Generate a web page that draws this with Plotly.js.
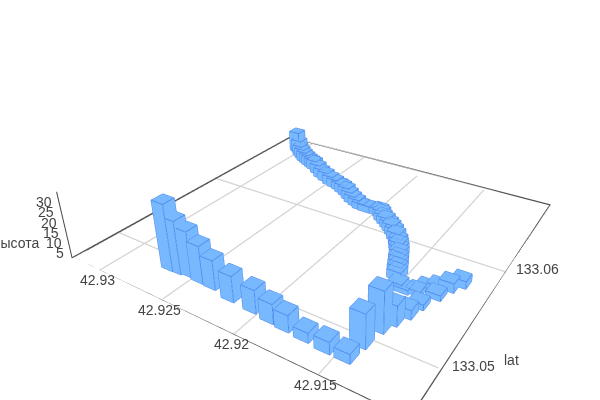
<!DOCTYPE html>
<html><head><meta charset="utf-8"><script src="https://cdn.plot.ly/plotly-3.0.1.min.js"></script>
<style>html,body{margin:0;padding:0;background:#fff;overflow:hidden}#w{position:relative;width:600px;height:400px;overflow:hidden}#c{position:absolute;left:0;top:-97px;width:710px;height:504px}</style></head><body><div id="w"><div id="c"></div></div>
<script>
const lat=[133.04916,133.04919,133.04933,133.04923,133.04917,133.04886,133.04876,133.04858,133.04849,133.04839,133.04828,133.04827,133.04961,133.05118,133.0521,133.05307,133.05418,133.05549,133.05521,133.055,133.05516,133.05634,133.05664,133.05741,133.05586,
133.06842,133.06815,133.06767,133.06733,133.06699,133.06678,133.06655,133.06633,133.06612,133.06565,133.06516,133.06482,133.06449,133.0643,133.06413,133.06385,133.06356,133.0632,133.06284,133.0626,133.06235,133.06228,133.06231,133.06245,133.06208,133.06167,133.06136,133.06104,133.06071,133.06038,133.0599,133.05939,133.05897,133.05854,133.05801,133.05748,133.05696,133.05646,133.05596];
const lon=[42.92681,42.9262,42.92546,42.92453,42.92358,42.92204,42.92045,42.91921,42.9182,42.91697,42.91568,42.91455,42.91443,42.91422,42.91392,42.91356,42.91335,42.91291,42.91398,42.91461,42.91504,42.91319,42.9126,42.91218,42.91371,
42.93035,42.92998,42.92957,42.92916,42.92875,42.92838,42.928,42.92762,42.92726,42.92665,42.92604,42.92545,42.92485,42.92436,42.92387,42.92342,42.92297,42.92252,42.92208,42.92163,42.92118,42.92072,42.92023,42.91976,42.91945,42.91915,42.91878,42.91841,42.91808,42.91774,42.91737,42.917,42.91677,42.91654,42.9163,42.91609,42.91588,42.91568,42.91548];
const alt=[32,25.5,22,18,14,12.3,11,9.2,7.8,4.5,5.5,4.3,15.5,19,9.5,4.3,2.6,2.6,2.2,2.2,2.8,2.2,4.4,3.6,2,
12,8,6.4,6,5.8,5.4,5.2,5.2,5.4,5.2,5,5.1,5,4.6,4.3,4.7,4.8,4.4,4.1,3.8,3.4,3.4,3.4,3.4,3.8,3.8,4,3.8,4,3.8,4,3.7,3.8,3.6,4,4,4,4,4];
const hx=0.00048,hy=0.00044;
const xR=[133.0463,133.0703],yR=[42.9104,42.9324],zR=[-0.3,32];
const xT=[133.05,133.06],yT=[42.915,42.92,42.925,42.93],zT=[5,10,15,20,25,30];
const eps=3e-5;
let X=[],Y=[],Z=[],I=[],J=[],K=[],ex=[],ey=[],ez=[];
lat.forEach((a,n)=>{const b=lon[n],h=alt[n],o=X.length;
 const c=[[a-hx,b-hy,0],[a+hx,b-hy,0],[a+hx,b+hy,0],[a-hx,b+hy,0],[a-hx,b-hy,h],[a+hx,b-hy,h],[a+hx,b+hy,h],[a-hx,b+hy,h]];
 c.forEach(p=>{X.push(p[0]);Y.push(p[1]);Z.push(p[2])});
 [[0,1,2],[0,2,3],[4,5,6],[4,6,7],[0,1,5],[0,5,4],[1,2,6],[1,6,5],[2,3,7],[2,7,6],[3,0,4],[3,4,7]].forEach(t=>{I.push(o+t[0]);J.push(o+t[1]);K.push(o+t[2])});
 [[0,1],[1,2],[2,3],[3,0],[4,5],[5,6],[6,7],[7,4],[0,4],[1,5],[2,6],[3,7]].forEach(e=>{ex.push(c[e[0]][0],c[e[1]][0],null);ey.push(c[e[0]][1],c[e[1]][1],null);ez.push(c[e[0]][2],c[e[1]][2],null)});
});
const flat={ambient:1,diffuse:0,specular:0,roughness:1,fresnel:0};
let gx=[],gy=[],gz=[];
xT.forEach(v=>{gx.push(v,v,null);gy.push(yR[0],yR[1],null);gz.push(0,0,null)});
yT.forEach(v=>{gx.push(xR[0],xR[1],null);gy.push(v,v,null);gz.push(0,0,null)});
const frameX=[xR[0],xR[1],xR[1],xR[0],xR[0]],frameY=[yR[0],yR[0],yR[1],yR[1],yR[0]],frameZ=[0,0,0,0,0];
function ribbons(rects,color,z){const x=[],y=[],zz=[],i=[],j=[],k=[];
 rects.forEach(r=>{const o=x.length;x.push(r[0],r[1],r[1],r[0]);y.push(r[2],r[2],r[3],r[3]);zz.push(z,z,z,z);i.push(o,o);j.push(o+1,o+2);k.push(o+2,o+3)});
 return {type:'mesh3d',x,y,z:zz,i,j,k,color,flatshading:true,lighting:flat,hoverinfo:'skip'};}
const fw=[0.00007,0.000065],bw=[0.00012,0.00011];
const frameR=[[xR[0],xR[1],yR[0],yR[0]+fw[1]],[xR[1]-bw[0],xR[1],yR[0],yR[1]],[xR[0],xR[1],yR[1]-bw[1],yR[1]]];
const data=[
 {type:'scatter3d',mode:'lines',x:gx,y:gy,z:gz,line:{color:'#d3d3d3',width:2.5},hoverinfo:'skip'},
 {type:'scatter3d',mode:'lines',x:frameX,y:frameY,z:frameZ,line:{color:'#555',width:2.5},hoverinfo:'skip'},
 ribbons(frameR,'#555555',0.04),
 {type:'mesh3d',x:X,y:Y,z:Z,i:I,j:J,k:K,color:'#78b8ff',flatshading:true,lighting:flat},
 {type:'scatter3d',mode:'lines',x:ex,y:ey,z:ez,line:{color:'#4a86e8',width:1.8},hoverinfo:'skip'}
];
const fam='"Liberation Sans",Arial,sans-serif';
const f14={size:14,color:'#444',family:fam};
const ax=(range,tv)=>({title:{text:''},range,tickvals:tv,showticklabels:false,showgrid:false,zeroline:false,showline:false,showbackground:false,showspikes:false,ticks:'outside',ticklen:0});
const note=(x,y,z,text,xshift,yshift,xanchor)=>({x,y,z,text,showarrow:false,xshift,yshift,xanchor:xanchor||'center',yanchor:'middle',font:f14});
const notes=[
 ...xT.map(v=>note(v,yR[0],0,String(v),31,3.5)),
 ...yT.map(v=>note(xR[0],v,0,String(v),-2,-10)),
 ...zT.map(v=>note(xR[0],yR[1],v,String(v),-4.5,-5.5,'right')),
 note(xT[0],yR[0],0,'lat',69,10),
 note(xR[0],yR[1],13,'высота',-51,-11)
];
Plotly.newPlot('c',data,{width:710,height:504,margin:{l:0,r:0,t:0,b:0},showlegend:false,paper_bgcolor:'#fff',
 scene:{domain:{x:[0,1],y:[0,1]},aspectmode:'manual',aspectratio:{x:0.98,y:1.035,z:0.2056},
  camera:{eye:{x:-1.267,y:-0.872,z:0.855},center:{x:0.086,y:-0.037,z:0.116},up:{x:0,y:0,z:1}},
  xaxis:ax([xR[0]-eps,xR[1]+eps],xT),yaxis:ax([yR[0]-eps,yR[1]+eps],yT),
  zaxis:Object.assign(ax(zR,zT),{showline:true,linecolor:'#444',linewidth:2,ticklen:4,tickcolor:'#444'}),
  annotations:notes}
},{displayModeBar:false});
</script></body></html>
